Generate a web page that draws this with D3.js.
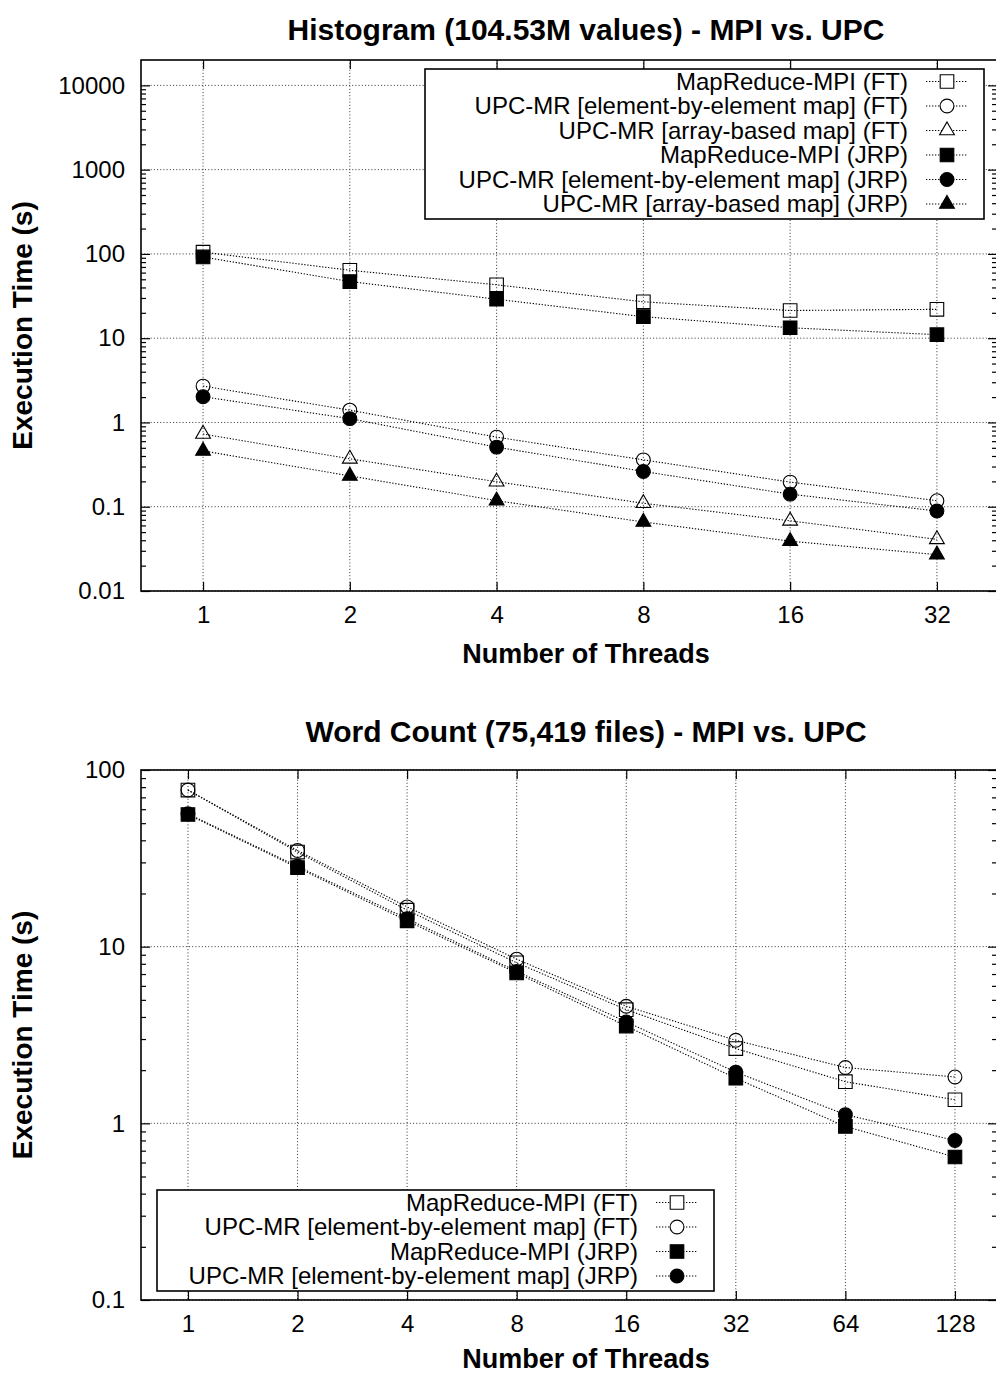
<!DOCTYPE html>
<html>
<head>
<meta charset="utf-8">
<script src="https://cdn.jsdelivr.net/npm/d3@7"></script>
<style>
  body { margin: 0; background: #fff; }
  svg { display: block; font-family: "Liberation Sans", Arial, Helvetica, sans-serif; }
</style>
</head>
<body>
<svg id="chart" width="996" height="1375"></svg>
<script>
// --- Histogram (104.53M values) ---
const histThreads = [1, 2, 4, 8, 16, 32];
const histMpiFT      = [105, 64, 43, 27, 21.3, 22];
const histUpcElemFT  = [2.7, 1.4, 0.67, 0.36, 0.196, 0.118];
const histUpcArrFT   = [0.73, 0.37, 0.198, 0.11, 0.068, 0.041];
const histMpiJRP     = [92, 47, 29, 18, 13.3, 11];
const histUpcElemJRP = [2.02, 1.11, 0.51, 0.262, 0.141, 0.089];
const histUpcArrJRP  = [0.46, 0.232, 0.118, 0.066, 0.039, 0.027];
const histYTicks = [0.01, 0.1, 1, 10, 100, 1000, 10000];

// --- Word Count (75,419 files) ---
const wcThreads = [1, 2, 4, 8, 16, 32, 64, 128];
const wcMpiFT      = [77, 34.3, 16.1, 8.1, 4.4, 2.65, 1.72, 1.36];
const wcUpcElemFT  = [77, 35, 16.8, 8.5, 4.6, 2.95, 2.07, 1.83];
const wcMpiJRP     = [56, 28, 14, 7.1, 3.55, 1.8, 0.96, 0.645];
const wcUpcElemJRP = [56.5, 28.5, 14.4, 7.25, 3.75, 1.95, 1.12, 0.8];
const wcYTicks = [0.1, 1, 10, 100];

const labelMpiFT      = "MapReduce-MPI (FT)";
const labelUpcElemFT  = "UPC-MR [element-by-element map] (FT)";
const labelUpcArrFT   = "UPC-MR [array-based map] (FT)";
const labelMpiJRP     = "MapReduce-MPI (JRP)";
const labelUpcElemJRP = "UPC-MR [element-by-element map] (JRP)";
const labelUpcArrJRP  = "UPC-MR [array-based map] (JRP)";

const svg = d3.select("#chart");

function symbolPath(kind) {
    if (kind === "square") return d3.symbol(d3.symbolSquare, 185)();
    if (kind === "circle") return d3.symbol(d3.symbolCircle, 150)();
    return d3.symbol(d3.symbolTriangle, 95)();
}

function drawChart(opts) {
    const f = opts.frame;
    const x = d3.scaleLog().base(2).domain(opts.xDomain).range([f.left, f.right]);
    const y = d3.scaleLog().domain(opts.yDomain).range([f.bottom, f.top]);

    const g = svg.append("g");

    // minor tick values for the log axis
    const minor = [];
    opts.yTicks.forEach(function(t) {
        for (let k = 2; k <= 9; k++) {
            const v = t * k;
            if (v < opts.yDomain[1]) minor.push(v);
        }
    });

    // grid
    g.append("g").selectAll("line")
        .data(opts.yTicks)
        .join("line")
        .attr("x1", f.left).attr("x2", f.right)
        .attr("y1", d => y(d)).attr("y2", d => y(d))
        .attr("stroke", "#333").attr("stroke-width", 1)
        .attr("stroke-dasharray", "1,2.2");
    g.append("g").selectAll("line")
        .data(opts.threads)
        .join("line")
        .attr("x1", d => x(d)).attr("x2", d => x(d))
        .attr("y1", f.top).attr("y2", f.bottom)
        .attr("stroke", "#333").attr("stroke-width", 1)
        .attr("stroke-dasharray", "1,2.2");

    // axes: labelled bottom/left, mirrored ticks on top/right
    const axB = g.append("g")
        .attr("transform", "translate(0," + f.bottom + ")")
        .call(d3.axisBottom(x).tickValues(opts.threads).tickFormat(d3.format("d"))
            .tickSize(-9).tickPadding(15));
    const axT = g.append("g")
        .attr("transform", "translate(0," + f.top + ")")
        .call(d3.axisTop(x).tickValues(opts.threads).tickFormat("").tickSize(-9));
    const axL = g.append("g")
        .attr("transform", "translate(" + f.left + ",0)")
        .call(d3.axisLeft(y).tickValues(opts.yTicks).tickFormat(d3.format("~g"))
            .tickSize(-9).tickPadding(16));
    const axLm = g.append("g")
        .attr("transform", "translate(" + f.left + ",0)")
        .call(d3.axisLeft(y).tickValues(minor).tickFormat("").tickSize(-5));
    const axR = g.append("g")
        .attr("transform", "translate(" + f.right + ",0)")
        .call(d3.axisRight(y).tickValues(opts.yTicks).tickFormat("").tickSize(-9));
    const axRm = g.append("g")
        .attr("transform", "translate(" + f.right + ",0)")
        .call(d3.axisRight(y).tickValues(minor).tickFormat("").tickSize(-5));

    [axB, axT, axL, axLm, axR, axRm].forEach(function(a) {
        a.select(".domain").remove();
        a.selectAll(".tick line").attr("stroke", "#000").attr("stroke-width", 1.2);
        a.selectAll(".tick text")
            .attr("fill", "#000")
            .style("font-size", "24px")
            .style("font-family", "'Liberation Sans', Arial, sans-serif");
    });

    // series
    const line = d3.line()
        .x(d => x(d[0]))
        .y(d => y(d[1]));

    opts.series.forEach(function(s) {
        const pts = opts.threads.map((t, i) => [t, s.values[i]]);
        g.append("path")
            .datum(pts)
            .attr("fill", "none")
            .attr("stroke", "#000")
            .attr("stroke-width", 1.1)
            .attr("stroke-dasharray", "1.3,1.7")
            .attr("d", line);
        g.append("g").selectAll("path")
            .data(pts)
            .join("path")
            .attr("transform", d => "translate(" + x(d[0]) + "," + y(d[1]) + ")")
            .attr("d", symbolPath(s.symbol))
            .attr("fill", s.filled ? "#000" : "none")
            .attr("stroke", "#000")
            .attr("stroke-width", 1.1);
    });

    // border
    g.append("rect")
        .attr("x", f.left).attr("y", f.top)
        .attr("width", f.right - f.left).attr("height", f.bottom - f.top)
        .attr("fill", "none")
        .attr("stroke", "#000")
        .attr("stroke-width", 1.6);

    // legend
    const L = opts.legend;
    const lg = g.append("g");
    lg.append("rect")
        .attr("x", L.left).attr("y", L.top)
        .attr("width", L.right - L.left).attr("height", L.bottom - L.top)
        .attr("fill", "#fff")
        .attr("stroke", "#000")
        .attr("stroke-width", 1.6);
    opts.series.forEach(function(s, i) {
        const ry = L.top + 12.5 + 24.5 * i;
        lg.append("text")
            .attr("x", L.right - 76).attr("y", ry)
            .attr("dy", "0.35em")
            .attr("text-anchor", "end")
            .style("font-size", "24px")
            .text(s.name);
        lg.append("line")
            .attr("x1", L.right - 58).attr("x2", L.right - 16)
            .attr("y1", ry).attr("y2", ry)
            .attr("stroke", "#000")
            .attr("stroke-width", 1.1)
            .attr("stroke-dasharray", "1.3,1.7");
        lg.append("path")
            .attr("transform", "translate(" + (L.right - 37) + "," + ry + ")")
            .attr("d", symbolPath(s.symbol))
            .attr("fill", s.filled ? "#000" : "#fff")
            .attr("stroke", "#000")
            .attr("stroke-width", 1.1);
    });

    // titles
    g.append("text")
        .attr("x", 586).attr("y", opts.titleY)
        .attr("text-anchor", "middle")
        .style("font-size", "30px")
        .style("font-weight", "bold")
        .text(opts.title);
    g.append("text")
        .attr("x", 586).attr("y", f.bottom + opts.xLabelOffset)
        .attr("text-anchor", "middle")
        .style("font-size", "27px")
        .style("font-weight", "bold")
        .text("Number of Threads");
    g.append("text")
        .attr("transform", "translate(32," + ((f.top + f.bottom) / 2) + ") rotate(-90)")
        .attr("text-anchor", "middle")
        .style("font-size", "28px")
        .style("font-weight", "bold")
        .text("Execution Time (s)");
}

drawChart({
    title: "Histogram (104.53M values) - MPI vs. UPC",
    titleY: 40,
    xLabelOffset: 72,
    frame: { left: 141, right: 997, top: 60, bottom: 591 },
    xDomain: [0.746, 42.5],
    yDomain: [0.01, 20000],
    yTicks: histYTicks,
    threads: histThreads,
    legend: { left: 425, right: 984, top: 69, bottom: 219 },
    series: [
        { name: labelMpiFT, values: histMpiFT, symbol: "square", filled: false },
        { name: labelUpcElemFT, values: histUpcElemFT, symbol: "circle", filled: false },
        { name: labelUpcArrFT, values: histUpcArrFT, symbol: "triangle", filled: false },
        { name: labelMpiJRP, values: histMpiJRP, symbol: "square", filled: true },
        { name: labelUpcElemJRP, values: histUpcElemJRP, symbol: "circle", filled: true },
        { name: labelUpcArrJRP, values: histUpcArrJRP, symbol: "triangle", filled: true }
    ]
});

drawChart({
    title: "Word Count (75,419 files) - MPI vs. UPC",
    titleY: 742,
    xLabelOffset: 68,
    frame: { left: 141, right: 997, top: 770, bottom: 1300 },
    xDomain: [0.743, 167],
    yDomain: [0.1, 100],
    yTicks: wcYTicks,
    threads: wcThreads,
    legend: { left: 157, right: 714, top: 1190, bottom: 1291 },
    series: [
        { name: labelMpiFT, values: wcMpiFT, symbol: "square", filled: false },
        { name: labelUpcElemFT, values: wcUpcElemFT, symbol: "circle", filled: false },
        { name: labelMpiJRP, values: wcMpiJRP, symbol: "square", filled: true },
        { name: labelUpcElemJRP, values: wcUpcElemJRP, symbol: "circle", filled: true }
    ]
});
</script>
</body>
</html>
